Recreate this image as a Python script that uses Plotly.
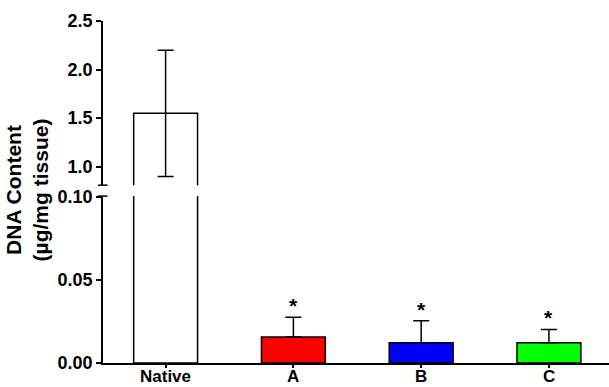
import plotly.graph_objects as go

categories = ["Native", "A", "B", "C"]
means = [1.55, 0.0156, 0.0122, 0.0122]
err_plus = [0.65, 0.0120, 0.0132, 0.0080]
err_minus = [0.65, 0.0, 0.0, 0.0]
colors = ["#FFFFFF", "#FF0000", "#0000FF", "#00FF00"]
stars = ["", "*", "*", "*"]
upper_ticks = [1.0, 1.5, 2.0, 2.5]
lower_ticks = [0.0, 0.05, 0.10]

FONT = "Arial, Liberation Sans, Helvetica, sans-serif"

fig = go.Figure()

for yax in ["y", "y2"]:
    fig.add_trace(go.Bar(
        x=categories, y=means, yaxis=yax, xaxis="x",
        width=0.5,
        marker=dict(color=colors, line=dict(color="black", width=1.5)),
        error_y=dict(type="data", symmetric=False, array=err_plus,
                     arrayminus=err_minus, color="black",
                     thickness=1.5, width=8),
        showlegend=False,
    ))

for c, m, e, s in zip(categories, means, err_plus, stars):
    if s:
        fig.add_annotation(x=c, y=m + e, xref="x", yref="y", text=s,
                           showarrow=False, yanchor="bottom", yshift=-2,
                           font=dict(family=FONT, size=21, color="black",
                                     weight="bold"))

tickfont = dict(family=FONT, size=18, color="black", weight="bold")
xlabfont = dict(family=FONT, size=17, color="black", weight="bold")

# category labels (placed as annotations so they fit the short bottom margin)
for c in categories:
    fig.add_annotation(x=c, y=0, xref="x", yref="paper", text=c,
                       showarrow=False, yanchor="bottom", yshift=-24,
                       borderpad=0, font=xlabfont)

fig.add_annotation(
    x=-0.15, y=0.505, xref="paper", yref="paper",
    text="DNA Content<br>(µg/mg tissue)", showarrow=False,
    textangle=-90, xanchor="center", yanchor="middle",
    font=dict(family=FONT, size=21, color="black", weight="bold"),
)

# axis break marks
for yref, yv in [("y2 domain", 0), ("y domain", 1)]:
    fig.add_shape(type="line", xref="paper", yref=yref,
                  x0=-0.010, x1=0.009, y0=yv, y1=yv,
                  line=dict(color="black", width=1.5))

fig.update_layout(
    width=609, height=387,
    margin=dict(l=103, r=0, t=21, b=24, autoexpand=False),
    paper_bgcolor="white", plot_bgcolor="white",
    xaxis=dict(range=[-0.49, 3.47], showline=True, linecolor="black",
               linewidth=1.5, ticks="outside", ticklen=3, tickwidth=1.5,
               tickcolor="black", showgrid=False, zeroline=False,
               showticklabels=False, anchor="y", automargin=False),
    yaxis=dict(domain=[0, 0.488], range=[0, 0.1005],
               tickvals=lower_ticks, tickformat=".2f",
               showline=True, linecolor="black", linewidth=1.5,
               ticks="outside", ticklen=5, tickwidth=1.5, tickcolor="black",
               showgrid=False, zeroline=False, tickfont=tickfont,
               anchor="x", automargin=False),
    yaxis2=dict(domain=[0.52, 1], range=[0.81, 2.5],
                tickvals=upper_ticks, tickformat=".1f",
                showline=True, linecolor="black", linewidth=1.5,
                ticks="outside", ticklen=5, tickwidth=1.5, tickcolor="black",
                showgrid=False, zeroline=False, tickfont=tickfont,
                anchor="x", automargin=False),
)

fig.write_html("out.html")
